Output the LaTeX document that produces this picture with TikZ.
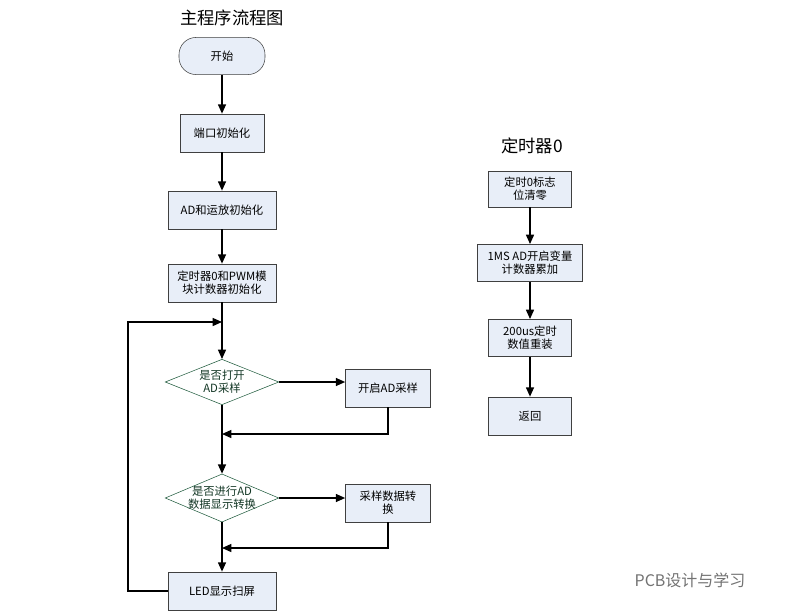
\documentclass[tikz,border=0pt]{standalone}
\usepackage{fontspec}
\newfontfamily\cjk{Noto Sans CJK SC}
\usetikzlibrary{arrows.meta}
\usetikzlibrary{shapes}
\definecolor{boxfill}{RGB}{232,238,248}
\definecolor{dgreen}{RGB}{30,90,60}
\begin{document}
\begin{tikzpicture}[x=0.0264cm,y=-0.0264cm,font=\cjk\fontsize{8.5}{10}\selectfont,
    box/.style={draw=black!75,fill=boxfill,line width=0.6pt,minimum height=1cm,align=center,inner sep=1pt},
    term/.style={draw=black!75,fill=boxfill,rounded corners=0.45cm,minimum width=2.27cm,minimum height=0.98cm},
    dec/.style={draw=dgreen,diamond,aspect=2.4,minimum width=3.0cm,minimum height=1.2cm,align=center,inner sep=0pt,text=dgreen!60!black},
    line/.style={line width=1pt},
    arr/.style={line width=1pt,-{Triangle[length=7pt,width=6pt]}}]
        \useasboundingbox (0,0) rectangle (787,614);
        \node[font=\cjk\fontsize{13}{15}\selectfont] (title) at (232,18) {主程序流程图};
        \node[term] (start) at (222,56) {开始};
        \node[box,minimum width=2.22cm] (port) at (222,133) {端口初始化};
        \node[box,minimum width=2.85cm] (adinit) at (222,210) {AD和运放初始化};
        \node[box,minimum width=2.85cm] (timinit) at (222,283) {定时器0和PWM模\\块计数器初始化};
        \node[dec] (ask1) at (222,382) {是否打开\\AD采样};
        \node[box,minimum width=2.24cm] (adon) at (388,388) {开启AD采样};
        \node[dec,inner sep=-6pt,minimum height=1.27cm] (ask2) at (222,498) {是否进行AD\\数据显示转换};
        \node[box,minimum width=2.24cm] (conv) at (388,503) {采样数据转\\换};
        \node[box,minimum width=2.85cm] (led) at (222,591) {LED显示扫屏};
        \coordinate (loop) at (222,322);
        \coordinate (join1) at (222,434);
        \coordinate (join2) at (222,548);
        \draw[arr] (start) -- (port);
        \draw[arr] (port) -- (adinit);
        \draw[arr] (adinit) -- (timinit);
        \draw[arr] (timinit) -- (ask1);
        \draw[arr] (ask1) -- (ask2);
        \draw[arr] (ask2) -- (led);
        \draw[arr] (ask1.east) -- (adon.west |- ask1.east);
        \draw[arr] (ask2.east) -- (conv.west |- ask2.east);
        \draw[arr] (adon.south) |- (join1);
        \draw[arr] (conv.south) |- (join2);
        \draw[arr] (led.west) -| (128,322) -- (loop);
        % timer 0
        \node[font=\cjk\fontsize{13}{15}\selectfont] (ttitle) at (532,146) {定时器0};
        \node[box,minimum width=2.19cm,minimum height=0.95cm] (clr) at (530,189) {定时0标志\\位清零};
        \node[box,minimum width=2.77cm,minimum height=0.98cm] (cnt) at (530,263) {1MS AD开启变量\\计数器累加};
        \node[box,minimum width=2.19cm,minimum height=0.98cm] (reload) at (530,338) {200us定时\\数值重装};
        \node[box,minimum width=2.19cm] (ret) at (530,416) {返回};
        \draw[arr] (clr) -- (cnt);
        \draw[arr] (cnt) -- (reload);
        \draw[arr] (reload) -- (ret);
        \node[text=black!55,font=\cjk\fontsize{12}{14}\selectfont] (mark) at (690,580) {PCB设计与学习};
\end{tikzpicture}
\end{document}
